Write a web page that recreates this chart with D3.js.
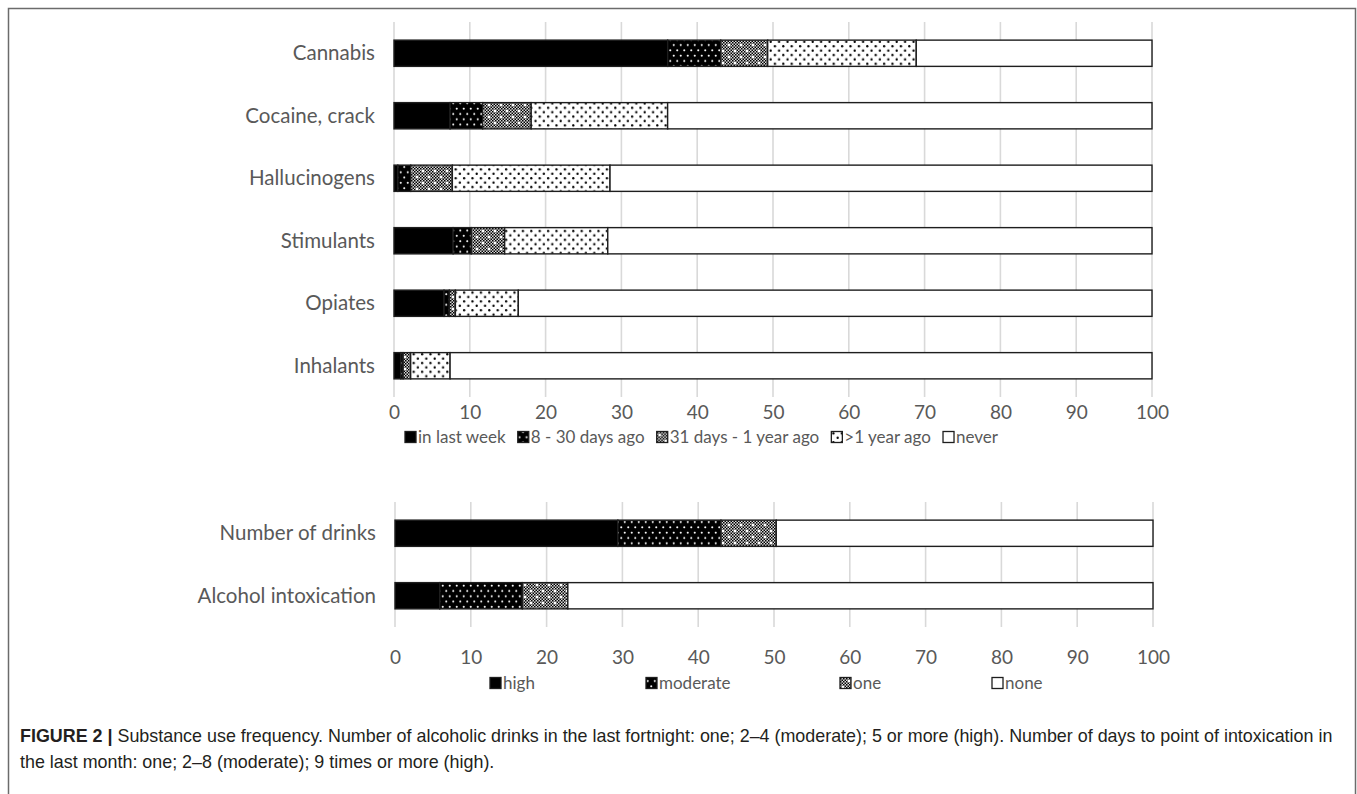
<!DOCTYPE html>
<html><head><meta charset="utf-8">
<script src="https://cdn.jsdelivr.net/npm/d3@7"></script>
<style>body{margin:0;background:#fff} svg{display:block}</style>
</head><body>
<svg id="c" width="1357" height="794"></svg>
<script>
// ---- data (top chart) ----
const categories = ["Cannabis","Cocaine, crack","Hallucinogens","Stimulants","Opiates","Inhalants"];
const seriesNames = ["in last week","8 - 30 days ago","31 days - 1 year ago",">1 year ago","never"];
const inLastWeek = [36.1, 7.4, 0.5, 7.8, 6.6, 0.9];
const days8to30  = [7.0, 4.3, 1.7, 2.4, 0.7, 0.3];
const days31to1y = [6.2, 6.4, 5.5, 4.4, 0.8, 1.0];
const over1year  = [19.6, 18.0, 20.8, 13.6, 8.3, 5.2];
const never      = [31.1, 63.9, 71.5, 71.8, 83.6, 92.6];
// ---- data (bottom chart) ----
const alcCategories = ["Number of drinks","Alcohol intoxication"];
const alcSeriesNames = ["high","moderate","one","none"];
const high     = [29.4, 5.9];
const moderate = [13.6, 10.9];
const one      = [7.3, 6.0];
const none     = [49.7, 77.2];
// ---- ticks ----
const tickValues = [0,10,20,30,40,50,60,70,80,90,100];
const captionBold = "FIGURE 2 |";
const captionLine1 = " Substance use frequency. Number of alcoholic drinks in the last fortnight: one; 2–4 (moderate); 5 or more (high). Number of days to point of intoxication in";
const captionLine2 = "the last month: one; 2–8 (moderate); 9 times or more (high).";

const svg = d3.select("#c");
const FONT = "Lato, 'Open Sans', sans-serif";
const TXT = "#595959";

// ---- patterns ----
const defs = svg.append("defs");
function pat(id, w, h){ return defs.append("pattern").attr("id",id).attr("patternUnits","userSpaceOnUse").attr("width",w).attr("height",h); }
let p = pat("pSolid", 4, 4); p.append("rect").attr("width",4).attr("height",4).attr("fill","#000");
p = pat("pDotsW", 7, 10.6);
p.append("rect").attr("width",7).attr("height",10.6).attr("fill","#000");
p.append("circle").attr("cx",1.75).attr("cy",2.65).attr("r",1.05).attr("fill","#fff");
p.append("circle").attr("cx",5.25).attr("cy",7.95).attr("r",1.05).attr("fill","#fff");
p = pat("pCheck", 12, 12);
p.append("rect").attr("width",12).attr("height",12).attr("fill","#fff");
for (let i=0;i<8;i++) for (let j=0;j<8;j++) if ((i+j)%2===0)
  p.append("rect").attr("x",i*1.5).attr("y",j*1.5).attr("width",1.5).attr("height",1.5).attr("fill","#000");
p.append("rect").attr("x",0).attr("y",0).attr("width",12).attr("height",12).attr("fill","#000").attr("opacity",0.15);
p.append("circle").attr("cx",3).attr("cy",3).attr("r",1.3).attr("fill","#fff");
p.append("circle").attr("cx",9).attr("cy",9).attr("r",1.3).attr("fill","#fff");
p = pat("pDotsB", 8.4, 8.8);
p.append("rect").attr("width",8.4).attr("height",8.8).attr("fill","#fff");
p.append("circle").attr("cx",2.1).attr("cy",2.2).attr("r",1.15).attr("fill","#000");
p.append("circle").attr("cx",6.3).attr("cy",6.6).attr("r",1.15).attr("fill","#000");
p = pat("pWhite", 4, 4); p.append("rect").attr("width",4).attr("height",4).attr("fill","#fff");

const topFills = ["url(#pSolid)","url(#pDotsW)","url(#pCheck)","url(#pDotsB)","url(#pWhite)"];
const botFills = ["url(#pSolid)","url(#pDotsW)","url(#pCheck)","url(#pWhite)"];

// ---- frame ----
svg.append("rect").attr("x",8.5).attr("y",8.5).attr("width",1347).attr("height",800)
  .attr("fill","none").attr("stroke","#6b6b6b").attr("stroke-width",1.5);

function drawPanel(cfg){
  const x = d3.scaleLinear().domain([0,100]).range(cfg.xr);
  const y = d3.scaleBand().domain(cfg.cats).range(cfg.yr).paddingInner(0.58).paddingOuter(0.29);
  const g = svg.append("g");
  g.append("g").selectAll("line").data(tickValues).join("line")
    .attr("x1",d=>x(d)).attr("x2",d=>x(d)).attr("y1",cfg.yr[0]).attr("y2",cfg.yr[1])
    .attr("stroke","#d9d9d9").attr("stroke-width",1.6);
  const rows = cfg.cats.map((c,i)=>{ const o={cat:c}; cfg.keys.forEach((k,j)=>o[k]=cfg.series[j][i]); return o; });
  const stack = d3.stack().keys(cfg.keys)(rows);
  g.append("g").selectAll("g").data(stack).join("g")
    .attr("fill",(d,i)=>cfg.fills[i])
    .selectAll("rect").data(d=>d).join("rect")
    .attr("x",d=>x(d[0])).attr("width",d=>x(d[1])-x(d[0]))
    .attr("y",d=>y(d.data.cat)).attr("height",y.bandwidth())
    .attr("stroke","#1e1e1e").attr("stroke-width",1.4);
  g.append("g").selectAll("text").data(cfg.cats).join("text")
    .attr("x",cfg.xr[0]-19).attr("y",d=>y(d)+y.bandwidth()/2).attr("dy","0.35em")
    .attr("text-anchor","end").attr("font-family",FONT).attr("font-size",20.5).attr("fill",TXT).text(d=>d);
  const ax = d3.axisBottom(x).tickValues(tickValues).tickSize(0).tickPadding(0).tickFormat(d3.format("d"));
  const axg = g.append("g").attr("transform",`translate(0,${cfg.tickY})`).call(ax);
  axg.select(".domain").remove();
  axg.selectAll("text").attr("font-family",FONT).attr("font-size",19).attr("fill",TXT).attr("dy","0");
  // legend
  const lg = g.append("g");
  const items = cfg.legNames.map((n,i)=>{
    const it = lg.append("g");
    it.append("rect").attr("x",0).attr("y",cfg.legY-5.5).attr("width",11).attr("height",11)
      .attr("fill",cfg.fills[i]).attr("stroke","#1e1e1e").attr("stroke-width",1.3);
    const t = it.append("text").attr("x",13).attr("y",cfg.legY).attr("dy","0.35em")
      .attr("font-family",FONT).attr("font-size",17).attr("fill",TXT).text(n);
    return {it, w: 13 + t.node().getComputedTextLength()};
  });
  if (cfg.legX) {
    items.forEach((d,i)=>d.it.attr("transform",`translate(${cfg.legX[i]},0)`));
  } else {
    const totalW = d3.sum(items, d=>d.w);
    const gap = (cfg.legEnd - cfg.legStart - totalW) / (items.length-1);
    let cx = cfg.legStart;
    items.forEach(d=>{ d.it.attr("transform",`translate(${cx},0)`); cx += d.w + gap; });
  }
}

drawPanel({cats:categories, keys:seriesNames, series:[inLastWeek,days8to30,days31to1y,over1year,never],
  fills:topFills, xr:[394,1152], yr:[22,397], tickY:419, legNames:seriesNames,
  legY:437, legStart:405, legEnd:998});
drawPanel({cats:alcCategories, keys:alcSeriesNames, series:[high,moderate,one,none],
  fills:botFills, xr:[395,1153], yr:[502,627], tickY:664, legNames:alcSeriesNames,
  legY:683, legX:[490,646,840,992]});

// caption
const CF = "'Liberation Sans', Arial, sans-serif";
const cap = svg.append("text").attr("x",20).attr("y",742).attr("font-family",CF)
  .attr("font-size",17.9).attr("fill","#231f20");
cap.append("tspan").attr("font-weight","bold").text(captionBold);
cap.append("tspan").text(captionLine1);
svg.append("text").attr("x",20).attr("y",768).attr("font-family",CF)
  .attr("font-size",17.9).attr("fill","#231f20").text(captionLine2);
</script>
</body></html>
